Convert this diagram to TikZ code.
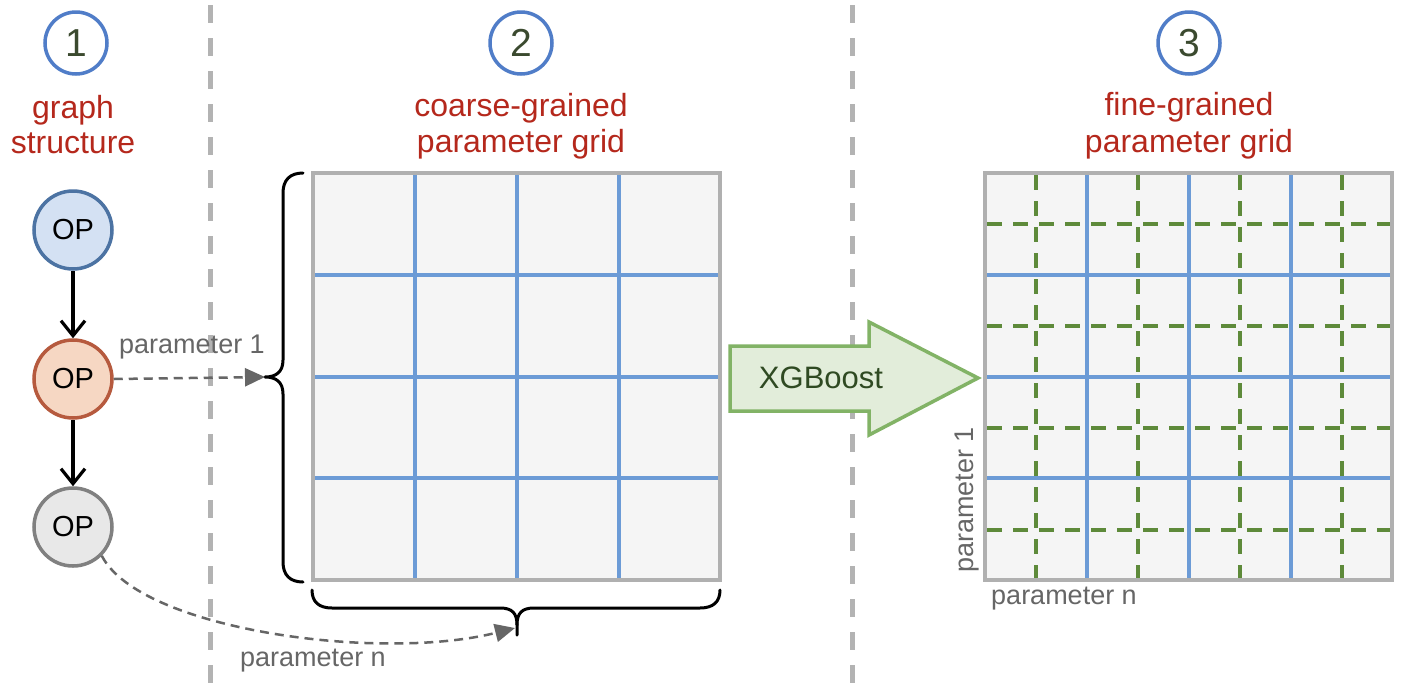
\documentclass[tikz,border=0pt]{standalone}
\usepackage{fontspec}
\setmainfont{Liberation Sans}
\usetikzlibrary{arrows.meta}
\definecolor{numblue}{RGB}{80,125,200}
\definecolor{numtext}{RGB}{59,74,47}
\definecolor{titlered}{RGB}{181,40,28}
\definecolor{opblue}{RGB}{212,225,243}
\definecolor{opbluedraw}{RGB}{76,115,163}
\definecolor{opred}{RGB}{246,215,195}
\definecolor{opreddraw}{RGB}{182,90,62}
\definecolor{opgray}{RGB}{232,232,232}
\definecolor{opgraydraw}{RGB}{128,128,128}
\definecolor{lblgray}{RGB}{102,102,102}
\definecolor{gridfill}{RGB}{245,245,245}
\definecolor{gridborder}{RGB}{176,176,176}
\definecolor{gridblue}{RGB}{108,155,214}
\definecolor{gridgreen}{RGB}{94,138,58}
\definecolor{xgfill}{RGB}{226,237,218}
\definecolor{xgdraw}{RGB}{130,179,102}
\definecolor{xgtext}{RGB}{47,74,34}
\definecolor{sepgray}{RGB}{179,179,179}
\begin{document}
\begin{tikzpicture}[x=1pt,y=-1pt,
  numcirc/.style={circle,draw=numblue,line width=3.5pt,minimum size=62pt,inner sep=0pt,
    text=numtext,font=\fontsize{39}{40}\selectfont},
  titletext/.style={anchor=base,text=titlered,inner sep=0pt,font=\fontsize{32}{38}\selectfont},
  opnode/.style={circle,line width=3.5pt,minimum size=78pt,inner sep=0pt,font=\fontsize{29}{30}\selectfont},
  lbl/.style={text=lblgray,inner sep=0pt,font=\fontsize{27}{30}\selectfont},
  sepline/.style={draw=sepgray,line width=5pt,dash pattern=on 18pt off 15pt},
  opflow/.style={draw=black,line width=3.2pt,-{Straight Barb[length=15pt,width=24pt,line width=3.2pt]}},
  paramarrow/.style={draw=lblgray,line width=2.5pt,dash pattern=on 9pt off 6pt,
    -{Triangle[length=20pt,width=18pt,fill=lblgray]}},
  bracesty/.style={draw=black,line width=3pt,line cap=round,line join=round},
  blueline/.style={draw=gridblue,line width=3.5pt},
  greendash/.style={draw=gridgreen,line width=3.8pt,dash pattern=on 15pt off 11pt},
]
\fill[white] (0,0) rectangle (1402,686);
\useasboundingbox (0,0) rectangle (1402,686);

% separators
\draw[sepline] (210,5) -- (210,686);
\draw[sepline] (852,5) -- (852,686);

% number circles and titles
\node[numcirc] (n1) at (76,43) {1};
\node[numcirc] (n2) at (521,43) {2};
\node[numcirc] (n3) at (1189,43) {3};
\node[titletext] (t1a) at (73,118) {graph};
\node[titletext] (t1b) at (73,153) {structure};
\node[titletext] (t2a) at (521,116) {coarse-grained};
\node[titletext] (t2b) at (521,152) {parameter grid};
\node[titletext] (t3a) at (1189,115) {fine-grained};
\node[titletext] (t3b) at (1189,152) {parameter grid};

% OP nodes
\node[opnode,fill=opblue,draw=opbluedraw] (op1) at (73,230) {OP};
\node[opnode,fill=opred,draw=opreddraw] (op2) at (73,379) {OP};
\node[opnode,fill=opgray,draw=opgraydraw] (op3) at (73,527) {OP};
\draw[opflow] (op1) -- (op2);
\draw[opflow] (op2) -- (op3);

% coarse grid
\fill[gridfill] (313,173) rectangle (720,580);
\foreach \v in {415,517,619} \draw[blueline] (\v,173) -- (\v,580);
\foreach \v in {275,377,478} \draw[blueline] (313,\v) -- (720,\v);
\draw[draw=gridborder,line width=4pt] (313,173) rectangle (720,580);

% braces
\coordinate (lbtip) at (265,377);
\coordinate (bbtip) at (517,635);
\draw[bracesty] (303,173) .. controls (290,173) and (283,180) .. (283,193) -- (283,360)
  .. controls (283,372) and (276,377) .. (lbtip)
  .. controls (276,377) and (283,382) .. (283,394) -- (283,562)
  .. controls (283,575) and (290,582) .. (303,582);
\draw[bracesty] (312,590) .. controls (312,602) and (319,608) .. (332,608) -- (500,608)
  .. controls (512,608) and (517,613) .. (517,625) -- (bbtip);
\draw[bracesty] (517,625) .. controls (517,613) and (522,608) .. (534,608) -- (700,608)
  .. controls (713,608) and (720,602) .. (720,590);

% parameter arrows
\draw[paramarrow] (op2.east) -- (lbtip);
\node[lbl] (p1) at (192,347) {parameter 1};
\coordinate (bbarrow) at (515,628);
\draw[paramarrow] (op3.-45) .. controls (140,630) and (380,662) .. (bbarrow);
\node[lbl] (pn) at (313,661) {parameter n};

% XGBoost arrow
\draw[fill=xgfill,draw=xgdraw,line width=3.5pt,line join=miter]
  (730,346) -- (869,346) -- (869,322) -- (978,378) -- (869,435) -- (869,411) -- (730,411) -- cycle;
\node[text=xgtext,inner sep=0pt,font=\fontsize{31}{34}\selectfont] (xg) at (821,378) {XGBoost};

% fine grid
\fill[gridfill] (985,173) rectangle (1392,580);
\foreach \v in {1087,1189,1291} \draw[blueline] (\v,173) -- (\v,580);
\foreach \v in {275,377,478} \draw[blueline] (985,\v) -- (1392,\v);
\foreach \v in {1036,1138,1240,1342} \draw[greendash] (\v,175) -- (\v,580);
\foreach \v in {224,326,428,530} \draw[greendash] (987,\v) -- (1392,\v);
\draw[draw=gridborder,line width=4pt] (985,173) rectangle (1392,580);
\node[lbl,rotate=90] (fp1) at (967,500) {parameter 1};
\node[lbl] (fpn) at (1064,599) {parameter n};
\end{tikzpicture}
\end{document}
